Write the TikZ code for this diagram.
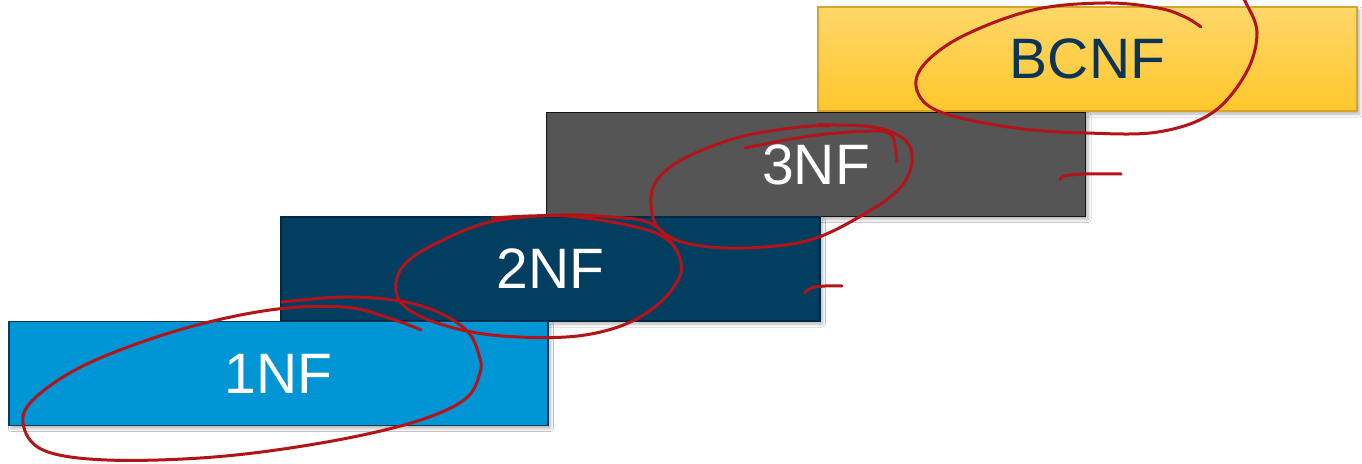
\documentclass[tikz,border=0pt]{standalone}
\usepackage{fontspec}
\setmainfont{Liberation Sans}
\usetikzlibrary{shadows.blur}
\definecolor{nfblue}{HTML}{0096D6}
\definecolor{nfblueb}{HTML}{0B3A58}
\definecolor{nfnavy}{HTML}{013E60}
\definecolor{nfnavyb}{HTML}{012A42}
\definecolor{nfgray}{HTML}{555555}
\definecolor{nfgrayb}{HTML}{151515}
\definecolor{nfyeltop}{HTML}{FFD769}
\definecolor{nfyelbot}{HTML}{FFC72C}
\definecolor{nfyelb}{HTML}{D6A42A}
\definecolor{nftext}{HTML}{0B3556}
\definecolor{pen}{HTML}{B31419}
\tikzset{
  nfbox/.style={rectangle, line width=1.2pt, minimum width=539pt, minimum height=104pt,
    inner sep=0pt, font=\fontsize{57}{60}\selectfont,
    blur shadow={shadow xshift=2.5pt, shadow yshift=-3pt, shadow blur steps=6, shadow opacity=30, shadow blur radius=3pt}},
  ink/.style={draw=pen, line width=3pt, line cap=round, line join=round}
}
\begin{document}
\begin{tikzpicture}[x=1pt,y=-1pt]
\useasboundingbox (0,0) rectangle (1362,463);
\clip (0,0) rectangle (1362,463);
\fill[white] (0,0) rectangle (1362,463);
\node[nfbox, draw=nfyelb, top color=nfyeltop, bottom color=nfyelbot, text=nftext] (bcnf) at (1087.5,59) {BCNF};
\node[nfbox, draw=nfgrayb, fill=nfgray, text=white] (n3) at (816,164.5) {3NF};
\node[nfbox, draw=nfnavyb, fill=nfnavy, text=white] (n2) at (550.5,269) {2NF};
\node[nfbox, draw=nfblueb, fill=nfblue, text=white] (n1) at (278.5,373.5) {1NF};
% BCNF loop
\draw[ink] plot[smooth, tension=0.6] coordinates {(1201,27) (1185,17) (1158,8) (1105,3) (1033,10) (961,37) (922,67) (918,93) (943,113) (1015,128) (1087,133) (1158,132) (1212,113) (1246,73) (1257,33) (1246,3) (1238,-8)};
% 3NF loop
\draw[ink] plot[smooth, tension=0.6] coordinates {(818,125) (873,127) (905,140) (912,162) (900,188) (866,213) (810,240) (744,248) (690,244) (660,230) (651,205) (657,180) (685,158) (740,137) (800,127) (830,126)};
\draw[ink] plot[smooth, tension=0.6] coordinates {(745,148) (810,136) (870,131) (890,134) (895,145) (897,162)};
% 2NF loop
\draw[ink] plot[smooth, tension=0.6] coordinates {(492,218) (566,216) (640,228) (670,242) (681,263) (677,282) (655,307) (618,327) (566,337) (492,335) (437,323) (403,305) (396,283) (407,262) (437,243) (490,222) (560,215) (611,217) (644,221) (663,232) (676,250)};
% 1NF loop
\draw[ink] plot[smooth, tension=0.6] coordinates {(282,302) (344,297) (400,301) (440,313) (468,332) (479,355) (480,373) (464,400) (411,423) (321,443) (214,457) (107,460) (43,450) (23,423) (36,397) (89,363) (179,330) (270,310) (344,307) (389,318) (421,330)};
% dashes
\draw[ink] plot[smooth, tension=0.5] coordinates {(1060,180) (1064,176) (1085,174) (1121,174)};
\draw[ink] plot[smooth, tension=0.5] coordinates {(805,293) (811,288) (825,286) (842,286)};
\end{tikzpicture}
\end{document}
